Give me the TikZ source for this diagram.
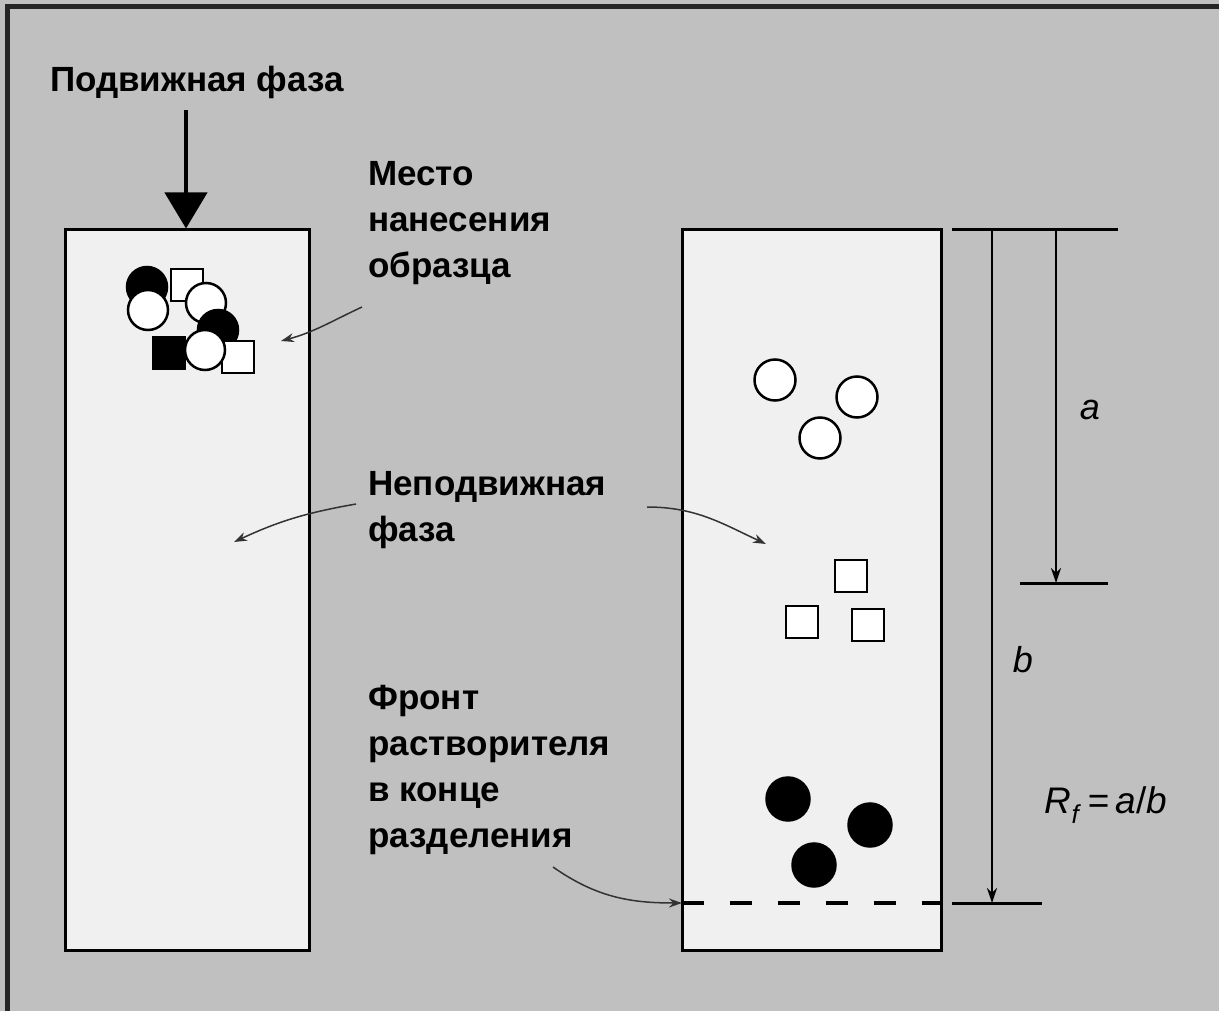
\documentclass[tikz,border=0pt]{standalone}
\usepackage{fontspec}
\setmainfont{Liberation Sans}
\usetikzlibrary{arrows.meta}
\definecolor{bggray}{gray}{0.753}
\definecolor{plategray}{gray}{0.94}

\begin{document}
\begin{tikzpicture}[x=1pt,y=-1pt,
  plate/.style={draw,line width=3pt,fill=plategray,inner sep=0pt},
  lbl/.style={anchor=north west,align=left,inner sep=0pt,font=\fontsize{35}{46}\selectfont\bfseries},
  ptr/.style={-{Stealth[length=13pt,width=9pt]},line width=1.5pt,black!80},
  dimarrow/.style={-{Stealth[length=15pt,width=10pt]},line width=1.6pt},
  tick/.style={line width=3pt},
  wdot/.style={circle,draw,line width=2.5pt,fill=white,minimum size=40pt,inner sep=0pt},
  bdot/.style={circle,draw,line width=2.5pt,fill=black,minimum size=40pt,inner sep=0pt},
  wsq/.style={draw,line width=2.5pt,fill=white,minimum size=32pt,inner sep=0pt},
  bsq/.style={draw,line width=2.5pt,fill=black,minimum size=32pt,inner sep=0pt}]
  \fill[bggray] (0,0) rectangle (1219,1011);
  \useasboundingbox (0,0) rectangle (1219,1011);
  \draw[line width=5pt,black!85] (7,1011) -- (7,7) -- (1219,7);

  % plates
  \node[plate,minimum width=244pt,minimum height=720pt] (plateL) at (187,590) {};
  \node[plate,minimum width=259pt,minimum height=720pt] (plateR) at (811.5,590) {};

  % mobile phase
  \node[anchor=base,inner sep=0pt,font=\fontsize{35}{46}\selectfont\bfseries] (mobile) at (197,92) {Подвижная фаза};
  \coordinate (flowtop) at (186,110);
  \draw[line width=4pt,-{Triangle[length=36pt,width=42pt]}] (flowtop) -- (plateL.north -| flowtop);

  % sample spot
  \node[bdot] (s1) at (147,287) {};
  \node[wdot] (s2) at (148,310) {};
  \node[wsq] (s3) at (187,285) {};
  \node[wdot] (s4) at (206,303) {};
  \node[bdot] (s5) at (218,330) {};
  \node[bsq] (s6) at (169,353) {};
  \node[wsq] (s7) at (238,357) {};
  \node[wdot] (s8) at (205,350) {};

  % separated spots
  \node[wdot,minimum size=41pt] (c1) at (775,380) {};
  \node[wdot,minimum size=41pt] (c2) at (857,397) {};
  \node[wdot,minimum size=41pt] (c3) at (820,438) {};
  \node[wsq] (q1) at (851,576) {};
  \node[wsq] (q2) at (802,622) {};
  \node[wsq] (q3) at (868,625) {};
  \node[bdot,minimum size=43pt] (d1) at (788,799) {};
  \node[bdot,minimum size=43pt] (d2) at (870,825) {};
  \node[bdot,minimum size=43pt] (d3) at (814,865) {};

  % labels
  \node[lbl] (spotlbl) at (368,161) {Место\\нанесения\\образца};
  \node[lbl] (statlbl) at (368,471) {Неподвижная\\фаза};
  \node[lbl] (frontlbl) at (368,685) {Фронт\\растворителя\\в конце\\разделения};

  \coordinate (spotA) at (362,307);
  \coordinate (spotB) at (281,341);
  \draw[ptr] (spotA) to[out=205,in=15] (spotB);
  \coordinate (statA) at (356,504);
  \coordinate (statB) at (234,542);
  \draw[ptr] (statA) to[out=190,in=25] (statB);
  \coordinate (statC) at (647,507);
  \coordinate (statD) at (766,544);
  \draw[ptr] (statC) to[out=0,in=155] (statD);

  % solvent front
  \coordinate (front) at (682,903);
  \coordinate (frontA) at (553,867);
  \draw[line width=3.5pt,dash pattern=on 22pt off 26pt] (front) -- (front -| plateR.east);
  \draw[ptr] (frontA) to[out=-35,in=180] (front);

  % distances
  \coordinate (topL) at (952,230);
  \coordinate (topR) at (1118,230);
  \coordinate (aL) at (1020,583);
  \coordinate (aR) at (1108,583);
  \coordinate (bL) at (952,903);
  \coordinate (bR) at (1042,903);
  \draw[tick] (topL) -- (topR);
  \draw[tick] (aL) -- (aR);
  \draw[tick] (bL) -- (bR);
  \draw[dimarrow] (1056,230) -- (1056,583);
  \draw[dimarrow] (992,230) -- (992,903);
  \node[font=\fontsize{36}{46}\selectfont\itshape] (alabel) at (1090,410) {a};
  \node[font=\fontsize{36}{46}\selectfont\itshape] (blabel) at (1023,660) {b};
  \node[font=\fontsize{37}{46}\selectfont] (rf) at (1106,805) {\textit{R}\textsubscript{\textit{f}}\,=\,\textit{a}/\textit{b}};
\end{tikzpicture}
\end{document}
